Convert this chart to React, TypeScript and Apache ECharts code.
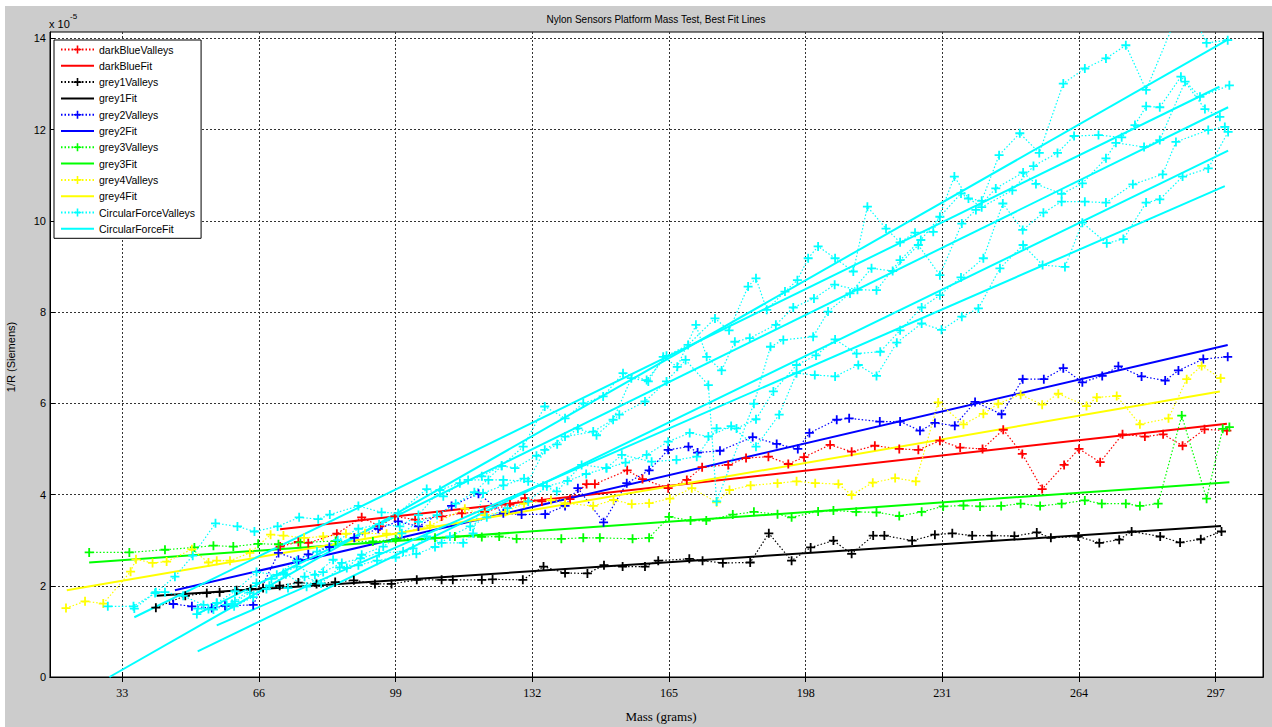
import React, { useEffect, useRef } from "react";
import * as echarts from "echarts";

// Tick positions on both axes
const massTicks = [33, 66, 99, 132, 165, 198, 231, 264, 297];
const siemensTicks = [0, 2, 4, 6, 8, 10, 12, 14];

// Valley readings: [mass (g), 1/R (x1e-5 S)]
const darkBlueValleys = [
  [71.1, 2.86], [75.5, 2.96], [77.9, 2.94], [84.8, 3.14], [90.8, 3.5], [95.2, 3.3], [98.8, 3.52],
  [103.7, 3.45], [110.1, 3.52], [115.0, 3.59], [120.5, 3.62], [126.6, 3.78], [130.2, 3.92], [134.3, 3.85],
  [141.1, 3.9], [145.1, 4.23], [147.1, 4.23], [154.9, 4.53], [158.6, 4.34], [164.8, 4.14], [169.3, 4.32],
  [173.0, 4.6], [179.3, 4.65], [183.6, 4.8], [189.0, 4.83], [193.8, 4.67], [197.6, 4.82], [203.9, 5.09],
  [209.1, 4.94], [214.7, 5.07], [220.6, 5.0], [225.2, 4.98], [230.4, 5.18], [235.3, 5.03], [240.7, 5.0],
  [245.7, 5.42], [250.3, 4.89], [255.1, 4.12], [260.4, 4.65], [264.0, 5.0], [269.1, 4.71], [274.5, 5.32],
  [279.9, 5.27], [284.3, 5.32], [289.0, 5.07], [294.3, 5.43], [299.7, 5.4],
];
const darkBlueFit = [[71.1, 3.24], [299.7, 5.55]];

const grey1Valleys = [
  [41.1, 1.52], [48.2, 1.78], [53.4, 1.84], [56.5, 1.86], [60.6, 1.9], [64.0, 1.93], [67.0, 1.95],
  [71.0, 2.0], [75.5, 2.07], [79.9, 2.04], [84.4, 2.08], [88.9, 2.12], [94.0, 2.04], [98.0, 2.04],
  [104.1, 2.13], [110.1, 2.13], [112.8, 2.13], [119.8, 2.13], [122.4, 2.14], [129.7, 2.13], [134.7, 2.42],
  [139.9, 2.28], [145.3, 2.27], [149.3, 2.45], [153.8, 2.42], [159.2, 2.42], [162.4, 2.55], [169.9, 2.59],
  [173.1, 2.55], [178.0, 2.5], [184.6, 2.51], [189.1, 3.15], [194.6, 2.55], [199.2, 2.84], [204.7, 2.99],
  [209.1, 2.7], [214.3, 3.1], [217.0, 3.1], [223.7, 2.99], [229.2, 3.12], [233.4, 3.15], [238.2, 3.1],
  [242.9, 3.1], [248.4, 3.09], [253.8, 3.17], [257.2, 3.05], [263.8, 3.08], [268.9, 2.94], [273.7, 3.01],
  [276.7, 3.19], [283.6, 3.08], [288.4, 2.95], [293.4, 3.02], [298.4, 3.19],
];
const grey1Fit = [[41.3, 1.78], [298.3, 3.31]];

const grey2Valleys = [
  [45.3, 1.6], [49.8, 1.55], [54.6, 1.51], [57.8, 1.56], [64.6, 1.58], [70.7, 2.72], [75.5, 2.57],
  [77.9, 2.69], [83.0, 2.85], [89.0, 3.05], [94.8, 3.25], [99.6, 3.41], [104.5, 3.3], [112.5, 3.75],
  [119.0, 4.02], [125.0, 3.59], [129.4, 3.56], [135.1, 3.57], [139.9, 3.75], [143.0, 4.14], [149.2, 3.39],
  [154.8, 4.25], [160.2, 4.53], [164.8, 4.98], [169.7, 5.05], [171.9, 4.92], [177.3, 4.96], [185.2, 5.26],
  [191.0, 5.11], [196.1, 5.0], [198.9, 5.35], [205.5, 5.64], [208.5, 5.67], [215.9, 5.6], [220.8, 5.6],
  [225.6, 5.4], [229.2, 5.57], [234.0, 5.51], [238.9, 6.03], [245.3, 5.76], [250.4, 6.53], [255.5, 6.53],
  [260.2, 6.77], [264.8, 6.46], [269.6, 6.6], [273.5, 6.81], [279.1, 6.59], [284.8, 6.5], [288.0, 6.72],
  [294.0, 6.97], [299.9, 7.02],
];
const grey2Fit = [[45.7, 1.9], [299.9, 7.28]];

const grey3Valleys = [
  [25.0, 2.73], [34.7, 2.73], [43.3, 2.79], [50.4, 2.84], [55.0, 2.88], [59.8, 2.86], [65.8, 2.92],
  [70.7, 2.91], [76.0, 2.95], [84.5, 2.98], [93.5, 2.97], [99.0, 3.02], [108.5, 3.05], [113.3, 3.08],
  [119.8, 3.07], [124.0, 3.08], [128.2, 3.03], [139.0, 3.03], [144.3, 3.05], [148.3, 3.05], [156.2, 3.03],
  [160.2, 3.05], [165.0, 3.51], [170.2, 3.43], [174.0, 3.43], [180.4, 3.56], [185.5, 3.62], [191.2, 3.57],
  [194.6, 3.5], [201.0, 3.63], [204.7, 3.65], [210.2, 3.62], [215.1, 3.61], [220.6, 3.53], [226.0, 3.62],
  [231.2, 3.74], [236.1, 3.76], [240.1, 3.74], [245.2, 3.75], [249.9, 3.8], [254.6, 3.75], [259.8, 3.8],
  [265.4, 3.87], [269.5, 3.8], [275.3, 3.8], [278.7, 3.75], [283.1, 3.8], [288.8, 5.73], [294.8, 3.91],
  [298.7, 5.44], [300.3, 5.48],
];
const grey3Fit = [[25.0, 2.51], [300.3, 4.27]];

const grey4Valleys = [
  [19.4, 1.51], [24.0, 1.66], [28.4, 1.61], [35.0, 2.31], [36.3, 2.58], [40.3, 2.5], [43.7, 2.53],
  [49.8, 2.8], [53.8, 2.51], [55.8, 2.55], [59.0, 2.55], [63.8, 2.72], [68.8, 3.12], [71.9, 3.1],
  [76.9, 3.05], [81.5, 3.08], [87.0, 3.14], [91.6, 3.15], [96.8, 3.14], [100.0, 3.15], [107.3, 3.32],
  [115.7, 3.69], [120.5, 3.55], [125.5, 3.62], [130.0, 3.8], [136.5, 3.88], [139.9, 3.81], [146.7, 3.75],
  [151.6, 3.88], [156.0, 3.79], [160.2, 3.81], [165.2, 3.91], [170.5, 4.14], [176.5, 3.83], [179.6, 4.1],
  [184.7, 4.2], [191.2, 4.25], [195.8, 4.29], [200.3, 4.25], [205.9, 4.23], [209.1, 3.99], [214.2, 4.26],
  [219.6, 4.36], [224.6, 4.29], [230.0, 6.02], [236.1, 5.54], [240.9, 5.77], [244.5, 5.99], [249.9, 6.19],
  [255.1, 5.97], [259.0, 6.21], [265.8, 5.94], [268.3, 6.13], [273.1, 6.16], [278.7, 5.54], [285.6, 5.67],
  [290.0, 6.53], [293.6, 6.82], [298.2, 6.55],
];
const grey4Fit = [[19.6, 1.9], [298.0, 6.26]];

// Circular force platform: five runs, each with its own best-fit line
const circularRun1 = [
  [29.5, 1.55], [35.7, 1.55], [40.9, 1.84], [45.7, 2.2], [50.0, 2.66], [55.5, 3.37], [60.8, 3.3],
  [64.9, 3.19], [70.5, 3.3], [75.7, 3.5], [80.3, 3.46], [83.1, 3.56], [90.0, 3.75], [95.6, 3.61],
  [99.6, 3.59], [106.5, 4.12], [110.5, 3.96], [114.5, 4.25], [119.8, 4.4], [124.6, 4.63], [129.8, 5.05],
  [135.0, 5.93], [139.9, 5.67], [144.3, 6.0], [149.1, 6.15], [153.9, 6.66], [159.6, 6.51], [164.4, 7.04],
  [169.6, 7.28], [176.1, 7.86], [179.5, 7.6], [184.1, 8.56], [186.0, 8.74], [188.6, 8.05], [193.0, 8.45],
  [196.0, 8.7], [198.6, 9.18], [201.0, 9.44], [205.1, 9.18], [209.5, 8.89], [212.9, 10.31], [217.4, 9.83],
  [220.8, 9.53], [224.4, 9.74], [228.8, 9.76], [233.9, 10.97], [237.3, 10.49], [240.5, 10.44],
  [244.7, 11.44], [249.7, 11.92], [254.4, 11.49], [260.2, 13.01], [265.4, 13.34], [270.5, 13.56],
  [275.3, 13.85], [280.2, 12.87], [289.5, 14.9], [294.8, 13.9], [299.9, 13.96],
];
const circularRun2 = [
  [35.9, 1.5], [41.1, 1.86], [43.3, 1.86], [47.7, 1.78], [52.6, 1.58], [55.8, 1.62], [60.2, 1.88],
  [65.4, 2.3], [70.3, 2.24], [75.1, 2.55], [80.0, 2.75], [85.0, 3.0], [90.0, 3.25], [95.0, 3.35],
  [100.0, 3.3], [104.5, 3.55], [109.7, 4.1], [116.5, 4.32], [121.4, 4.32], [125.0, 4.32], [131.0, 4.29],
  [135.0, 4.98], [139.9, 5.27], [146.7, 5.38], [151.5, 5.64], [155.9, 6.55], [160.0, 6.48], [163.6, 7.02],
  [167.0, 6.8], [171.5, 7.72], [174.1, 7.02], [177.7, 6.72], [180.9, 7.35], [184.5, 7.43], [190.8, 7.72],
  [195.0, 8.1], [200.0, 8.3], [205.0, 8.6], [210.5, 8.49], [215.1, 8.48], [220.8, 9.14], [225.8, 9.58],
  [230.4, 10.09], [235.5, 10.6], [240.5, 10.3], [247.9, 10.67], [253.0, 11.2], [258.8, 11.49],
  [262.8, 11.86], [268.7, 11.88], [274.3, 11.83], [277.5, 12.1], [280.2, 12.51], [283.5, 12.49],
  [288.6, 13.16], [293.2, 12.72], [300.3, 12.97],
];
const circularRun3 = [
  [51.0, 1.38], [53.8, 1.49], [58.2, 1.58], [60.2, 1.66], [65.4, 2.06], [69.0, 2.15], [71.9, 2.28],
  [75.1, 2.42], [79.5, 2.24], [83.9, 2.57], [87.2, 2.39], [90.8, 2.68], [96.0, 2.86], [100.5, 3.15],
  [104.5, 3.4], [109.0, 3.55], [113.5, 3.8], [118.0, 4.05], [124.6, 4.63], [127.8, 4.58], [133.0, 4.85],
  [138.0, 5.1], [143.0, 5.45], [147.5, 5.3], [153.0, 5.75], [159.2, 6.04], [164.4, 6.48], [169.0, 6.95],
  [174.5, 6.4], [176.5, 3.85], [185.5, 5.99], [189.5, 7.24], [192.6, 7.39], [199.8, 7.46], [203.4, 8.01],
  [208.7, 8.41], [213.9, 8.96], [219.0, 8.9], [225.2, 9.47], [230.4, 8.81], [235.7, 9.94], [239.1, 10.24],
  [243.9, 10.71], [250.5, 11.06], [253.6, 10.81], [259.8, 10.59], [264.8, 10.82], [270.5, 11.37],
  [272.9, 11.71], [279.7, 11.62], [283.5, 11.77], [289.6, 13.05], [294.4, 12.45], [298.0, 12.28],
];
const circularRun4 = [
  [51.2, 1.5], [55.0, 1.48], [59.5, 1.6], [63.8, 1.85], [67.8, 1.93], [72.5, 2.25], [77.5, 1.98],
  [81.5, 2.3], [86.0, 2.5], [90.5, 2.6], [95.0, 2.72], [100.8, 2.75], [103.2, 2.82], [106.5, 3.08],
  [110.1, 2.94], [115.3, 2.94], [117.7, 3.15], [120.1, 4.03], [125.0, 4.2], [130.0, 4.35], [134.6, 4.19],
  [137.9, 4.07], [143.9, 4.65], [149.9, 4.58], [153.6, 4.87], [160.8, 4.72], [166.8, 4.76], [171.7, 4.83],
  [176.5, 5.45], [181.3, 5.45], [186.0, 5.65], [190.2, 6.26], [195.8, 6.84], [200.5, 7.05], [205.1, 7.4],
  [210.3, 7.09], [216.0, 7.13], [220.8, 7.6], [226.0, 8.1], [230.4, 8.37], [235.5, 8.76], [240.9, 9.18],
  [245.6, 10.38], [250.4, 9.8], [255.4, 10.18], [259.8, 10.42], [265.4, 10.42], [270.5, 10.4],
  [277.0, 10.8], [284.2, 11.02], [287.4, 11.73], [295.2, 11.99], [299.2, 12.06],
];
const circularRun5 = [
  [55.8, 1.62], [60.0, 1.55], [64.6, 1.75], [68.5, 2.0], [73.0, 1.95], [77.0, 2.2], [81.0, 2.05],
  [85.5, 2.4], [90.0, 2.45], [94.5, 2.55], [99.0, 2.62], [104.0, 2.7], [108.5, 2.85], [112.1, 3.08],
  [117.0, 3.3], [121.0, 3.5], [126.0, 3.7], [131.0, 3.85], [135.5, 4.18], [140.5, 4.3], [145.0, 4.45],
  [149.9, 4.58], [154.5, 4.7], [159.6, 4.87], [164.8, 5.16], [170.0, 5.35], [174.5, 5.27], [180.0, 5.5],
  [186.0, 5.05], [191.6, 5.75], [195.8, 6.66], [200.2, 6.62], [205.1, 6.59], [210.7, 6.84], [215.1, 6.6],
  [220.0, 7.33], [226.0, 7.75], [230.8, 7.61], [235.7, 7.9], [239.7, 8.08], [244.9, 8.96], [250.5, 9.47],
  [255.2, 9.03], [260.6, 8.99], [264.8, 9.96], [270.7, 9.51], [274.7, 9.6], [280.2, 10.4], [283.5, 10.47],
  [289.0, 10.97], [295.2, 11.15], [300.0, 11.95],
];
const circularFit1 = [[29.9, 0.0], [299.7, 13.96]];
const circularFit2 = [[35.9, 1.31], [297.9, 12.94]];
const circularFit3 = [[51.0, 1.38], [300.0, 12.49]];
const circularFit4 = [[51.2, 0.56], [300.0, 11.54]];
const circularFit5 = [[55.8, 1.13], [299.2, 10.76]];

const valleyNames = ["darkBlueValleys", "grey1Valleys", "grey2Valleys", "grey3Valleys", "grey4Valleys", "CircularForceValleys"];
const fitNames = ["darkBlueFit", "grey1Fit", "grey2Fit", "grey3Fit", "grey4Fit", "CircularForceFit"];

const SANS = '"Liberation Sans", Arial, Helvetica, sans-serif';
const SERIF = '"Liberation Serif", "Times New Roman", Times, serif';
const PLUS = "path://M3.2,0H4.8V3.2H8V4.8H4.8V8H3.2V4.8H0V3.2H3.2Z";

const X_MIN = 15.54;
const X_MAX = 308.42;
const Y_MIN = 0;
const Y_MAX = 14.14;

function valleySeries(name: string, color: string, data: number[][]) {
  return {
    type: "line",
    name,
    data,
    symbol: PLUS,
    symbolSize: 9,
    showSymbol: true,
    clip: true,
    silent: true,
    lineStyle: { color, width: 1.2, type: [1.5, 2] },
    itemStyle: { color },
  };
}

function fitSeries(name: string, color: string, data: number[][]) {
  return {
    type: "line",
    name,
    data,
    symbol: "none",
    clip: true,
    silent: true,
    lineStyle: { color, width: 2, type: "solid" },
    itemStyle: { color },
  };
}

// Legend rows: valley entry followed by its fit entry; fit rows show only the line
const legendData = valleyNames.flatMap((v, i) => [
  { name: v },
  { name: fitNames[i], itemStyle: { opacity: 0 } },
]);

export default function App() {
  const ref = useRef<HTMLDivElement>(null);

  useEffect(() => {
    if (!ref.current) return;
    const chart = echarts.init(ref.current, undefined, { renderer: "svg" });

    const gridLine = { show: true, lineStyle: { color: "#333", width: 1, type: [2, 2] } };
    const boxTick = { show: true, inside: true, length: 5, lineStyle: { color: "#000", width: 1 } };

    chart.setOption({
      animation: false,
      backgroundColor: "#cccccc",
      grid: {
        left: 50,
        top: 32,
        width: 1213,
        height: 645,
        show: true,
        backgroundColor: "#ffffff",
        borderColor: "#000",
        borderWidth: 1,
      },
      legend: {
        data: legendData,
        orient: "vertical",
        left: 54,
        top: 40,
        backgroundColor: "#ffffff",
        borderColor: "#000",
        borderWidth: 1,
        padding: [4, 6, 4, 6],
        itemWidth: 33,
        itemHeight: 10,
        itemGap: 5.3,
        selectedMode: false,
        textStyle: { fontFamily: SANS, fontSize: 10.5, color: "#000", lineHeight: 10 },
      },
      xAxis: [
        {
          type: "value",
          position: "bottom",
          min: X_MIN,
          max: X_MAX,
          axisLine: { show: true, lineStyle: { color: "#000", width: 1 } },
          axisTick: { ...boxTick, customValues: massTicks },
          axisLabel: {
            customValues: massTicks,
            fontFamily: SERIF,
            fontSize: 12,
            color: "#000",
            margin: 10,
          },
          splitLine: gridLine,
        },
        {
          type: "value",
          position: "top",
          min: X_MIN,
          max: X_MAX,
          axisLine: { show: true, lineStyle: { color: "#000", width: 1 } },
          axisTick: { ...boxTick, customValues: massTicks },
          axisLabel: { show: false },
          splitLine: { show: false },
        },
      ],
      yAxis: [
        {
          type: "value",
          position: "left",
          min: Y_MIN,
          max: Y_MAX,
          axisLine: { show: true, lineStyle: { color: "#000", width: 1 } },
          axisTick: { ...boxTick, customValues: siemensTicks },
          axisLabel: {
            customValues: siemensTicks,
            fontFamily: SANS,
            fontSize: 11,
            color: "#000",
            margin: 4,
          },
          splitLine: gridLine,
        },
        {
          type: "value",
          position: "right",
          min: Y_MIN,
          max: Y_MAX,
          axisLine: { show: true, lineStyle: { color: "#000", width: 1 } },
          axisTick: { ...boxTick, customValues: siemensTicks },
          axisLabel: { show: false },
          splitLine: { show: false },
        },
      ],
      graphic: [
        { type: "rect", silent: true, shape: { x: 0, y: 0, width: 1272, height: 6 }, style: { fill: "#ffffff" } },
        { type: "rect", silent: true, shape: { x: 0, y: 0, width: 5, height: 727 }, style: { fill: "#ffffff" } },
        {
          type: "text",
          x: 656,
          y: 19,
          style: {
            text: "Nylon Sensors Platform Mass Test, Best Fit Lines",
            fontFamily: SANS,
            fontSize: 10,
            fill: "#000",
            align: "center",
            verticalAlign: "middle",
          },
        },
        {
          type: "text",
          x: 49,
          y: 24,
          style: { text: "x 10", fontFamily: SANS, fontSize: 11, fill: "#000", align: "left", verticalAlign: "middle" },
        },
        {
          type: "text",
          x: 70,
          y: 16,
          style: { text: "-5", fontFamily: SANS, fontSize: 8, fill: "#000", align: "left", verticalAlign: "middle" },
        },
        {
          type: "text",
          x: 11,
          y: 357,
          rotation: Math.PI / 2,
          style: {
            text: "1/R (Siemens)",
            fontFamily: SANS,
            fontSize: 11,
            fill: "#000",
            align: "center",
            verticalAlign: "middle",
          },
        },
        {
          type: "text",
          x: 661,
          y: 716,
          style: {
            text: "Mass (grams)",
            fontFamily: SERIF,
            fontSize: 13,
            fill: "#000",
            align: "center",
            verticalAlign: "middle",
          },
        },
      ],
      series: [
        valleySeries("darkBlueValleys", "#ff0000", darkBlueValleys),
        fitSeries("darkBlueFit", "#ff0000", darkBlueFit),
        valleySeries("grey1Valleys", "#000000", grey1Valleys),
        fitSeries("grey1Fit", "#000000", grey1Fit),
        valleySeries("grey2Valleys", "#0000ff", grey2Valleys),
        fitSeries("grey2Fit", "#0000ff", grey2Fit),
        valleySeries("grey3Valleys", "#00ff00", grey3Valleys),
        fitSeries("grey3Fit", "#00ff00", grey3Fit),
        valleySeries("grey4Valleys", "#ffff00", grey4Valleys),
        fitSeries("grey4Fit", "#ffff00", grey4Fit),
        valleySeries("CircularForceValleys", "#00ffff", circularRun1),
        fitSeries("CircularForceFit", "#00ffff", circularFit1),
        valleySeries("CircularForceValleys", "#00ffff", circularRun2),
        fitSeries("CircularForceFit", "#00ffff", circularFit2),
        valleySeries("CircularForceValleys", "#00ffff", circularRun3),
        fitSeries("CircularForceFit", "#00ffff", circularFit3),
        valleySeries("CircularForceValleys", "#00ffff", circularRun4),
        fitSeries("CircularForceFit", "#00ffff", circularFit4),
        valleySeries("CircularForceValleys", "#00ffff", circularRun5),
        fitSeries("CircularForceFit", "#00ffff", circularFit5),
      ],
    });

    return () => chart.dispose();
  }, []);

  return (
    <div
      ref={ref}
      style={{ position: "absolute", left: 0, top: 0, width: 1272, height: 727 }}
    />
  );
}
